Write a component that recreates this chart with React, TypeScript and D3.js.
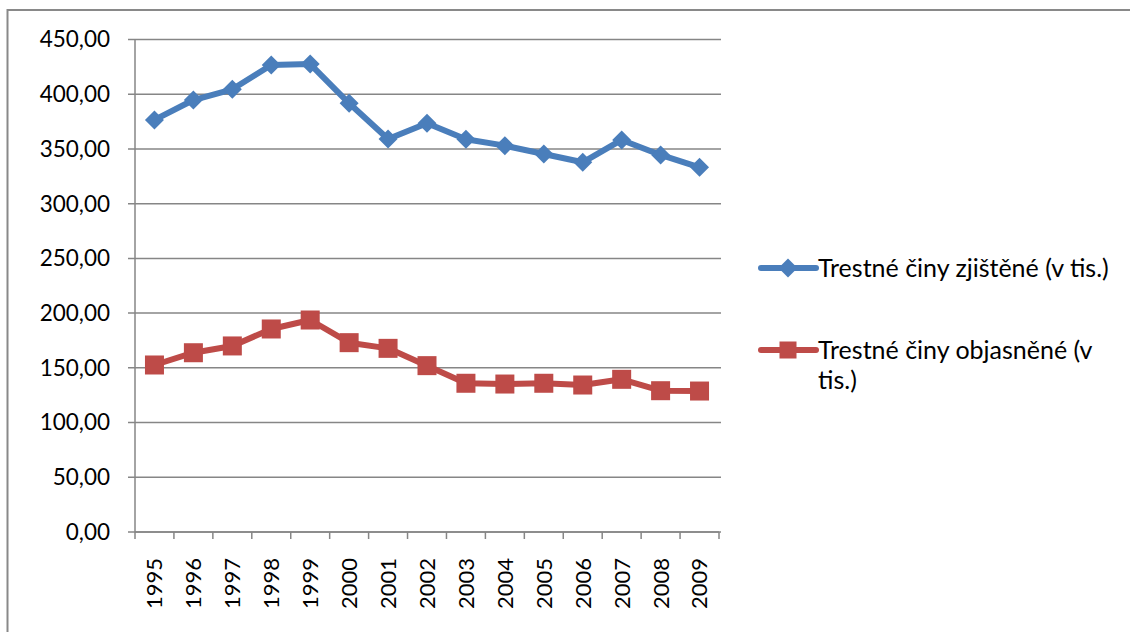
import React from "react";
import * as d3 from "d3";

const years = ["1995","1996","1997","1998","1999","2000","2001","2002","2003","2004","2005","2006","2007","2008","2009"];
const zjistene = [376.5,394.7,404.5,426.7,427.6,391.7,359.1,373.4,358.8,353.0,345.4,337.8,358.2,344.5,333.2];
const objasnene = [152.6,163.8,170.0,185.5,193.7,173.0,167.8,152.0,135.9,135.2,135.9,134.3,139.5,129.1,128.8];
const yTicks = [0,50,100,150,200,250,300,350,400,450];
const legend1 = ["Trestné činy zjištěné (v tis.)"];
const legend2 = ["Trestné činy objasněné (v", "tis.)"];

const BLUE = "#4A7EBB";
const RED = "#BE4B48";
const GRID = "#868686";
const FONT = "Lato, 'Open Sans', sans-serif";

export default function App() {
  const left = 135, right = 719, top = 39.5, bottom = 532;
  const x = d3.scaleBand<string>().domain(years).range([left, right]);
  const y = d3.scaleLinear().domain([0, 450]).range([bottom, top]);
  const cx = (d: string) => (x(d) as number) + x.bandwidth() / 2;
  const line = d3.line<number>().x((_, i) => cx(years[i])).y((v) => y(v));
  const diamond = (px: number, py: number, r: number) =>
    `M${px},${py - r}L${px + r},${py}L${px},${py + r}L${px - r},${py}Z`;
  const tickXs = [...years.map((d) => x(d) as number), right];

  return (
    <svg width={1130} height={632} style={{ position: "absolute", left: 0, top: 0, background: "#fff" }} fontFamily={FONT}>
      <rect x={7.5} y={10} width={1140} height={640} fill="#fff" stroke="#898989" strokeWidth={2} />
      {yTicks.map((t) => (
        <g key={t}>
          <line x1={128} x2={721} y1={y(t)} y2={y(t)} stroke={GRID} strokeWidth={1.5} />
          <text x={110} y={y(t)} dy="0.35em" textAnchor="end" fontSize={22.5} fill="#000">
            {t.toFixed(2).replace(".", ",")}
          </text>
        </g>
      ))}
      <line x1={left} x2={left} y1={top} y2={bottom} stroke={GRID} strokeWidth={1.5} />
      <line x1={left} x2={right} y1={bottom} y2={bottom} stroke={GRID} strokeWidth={1.5} />
      {tickXs.map((tx, i) => (
        <line key={i} x1={tx} x2={tx} y1={bottom} y2={539} stroke={GRID} strokeWidth={1.5} />
      ))}
      {years.map((d) => (
        <text key={d} transform={`translate(${cx(d)},558) rotate(-90)`} dy="0.36em" textAnchor="end" fontSize={22} fill="#000">
          {d}
        </text>
      ))}
      <path d={line(zjistene) || ""} fill="none" stroke={BLUE} strokeWidth={6} strokeLinejoin="round" />
      {zjistene.map((v, i) => (
        <path key={i} d={diamond(cx(years[i]), y(v), 9.5)} fill={BLUE} />
      ))}
      <path d={line(objasnene) || ""} fill="none" stroke={RED} strokeWidth={6} strokeLinejoin="round" />
      {objasnene.map((v, i) => (
        <rect key={i} x={cx(years[i]) - 9.5} y={y(v) - 9.5} width={19} height={19} fill={RED} />
      ))}
      <g>
        <line x1={761} x2={816} y1={268} y2={268} stroke={BLUE} strokeWidth={6} strokeLinecap="round" />
        <path d={diamond(788, 268, 9.5)} fill={BLUE} />
        {legend1.map((s, i) => (
          <text key={i} x={818} y={268 + i * 30} dy="0.35em" fontSize={25} fill="#000">{s}</text>
        ))}
        <line x1={761} x2={816} y1={350} y2={350} stroke={RED} strokeWidth={6} strokeLinecap="round" />
        <rect x={788 - 8.5} y={350 - 8.5} width={17} height={17} fill={RED} />
        {legend2.map((s, i) => (
          <text key={i} x={818} y={350 + i * 30} dy="0.35em" fontSize={25} fill="#000">{s}</text>
        ))}
      </g>
    </svg>
  );
}
